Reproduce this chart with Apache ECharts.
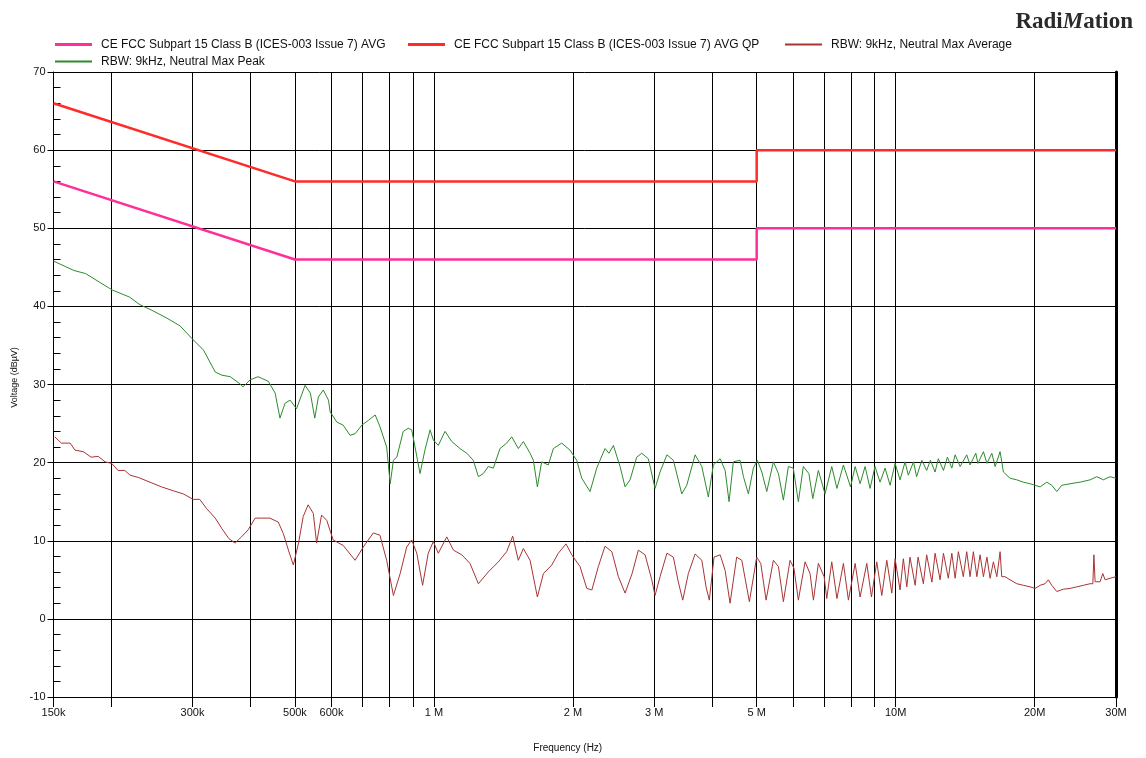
<!DOCTYPE html>
<html><head><meta charset="utf-8">
<script src="https://cdn.jsdelivr.net/npm/echarts@6/dist/echarts.min.js"></script>
<style>html,body{margin:0;padding:0;background:#fff}#c{width:1146px;height:758px}</style>
</head><body><div id="c"></div>
<script>
// ---- axis ticks ----
const gridFreqsHz = [150e3,200e3,300e3,400e3,500e3,600e3,700e3,800e3,900e3,1e6,2e6,3e6,4e6,5e6,6e6,7e6,8e6,9e6,10e6,20e6,30e6];
const labelFreqsHz = [150e3,300e3,500e3,600e3,1e6,2e6,3e6,5e6,10e6,20e6,30e6];
const labelTexts = ['150k','300k','500k','600k','1 M','2 M','3 M','5 M','10M','20M','30M'];

// ---- limit lines (frequency MHz, dBuV) ----
const qpFreqMHz  = [0.15, 0.5, 5, 5, 30];
const qpValues   = [66, 56, 56, 60, 60];
const avgFreqMHz = [0.15, 0.5, 5, 5, 30];
const avgValues  = [56, 46, 46, 50, 50];

// ---- RBW 9kHz Neutral Max Peak (green) ----
const peakFreqMHz = [0.15,0.166,0.176,0.196,0.201,0.219,0.231,0.245,0.264,0.282,0.299,0.317,0.336,0.347,0.362,0.38,0.386,0.4,0.416,0.438,0.453,0.464,0.476,0.488,0.504,0.526,0.54,0.552,0.562,0.576,0.591,0.596,0.616,0.636,0.658,0.675,0.698,0.721,0.746,0.764,0.79,0.804,0.817,0.831,0.858,0.88,0.895,0.91,0.933,0.956,0.981,0.997,1.022,1.057,1.093,1.139,1.178,1.217,1.248,1.279,1.311,1.345,1.39,1.437,1.474,1.523,1.562,1.615,1.642,1.675,1.711,1.769,1.814,1.891,1.971,2.038,2.09,2.178,2.252,2.347,2.394,2.447,2.53,2.594,2.659,2.749,2.818,2.913,3.012,3.088,3.196,3.3,3.441,3.528,3.678,3.803,3.929,4.028,4.167,4.272,4.356,4.451,4.602,4.681,4.797,4.918,5.017,5.129,5.258,5.434,5.572,5.712,5.855,6.0,6.155,6.31,6.487,6.614,6.8,7.03,7.27,7.46,7.705,7.984,8.17,8.373,8.585,8.8,9.02,9.25,9.485,9.725,9.97,10.22,10.48,10.65,10.93,11.1,11.39,11.67,11.89,12.17,12.37,12.69,12.94,13.23,13.45,13.79,14.25,14.49,14.91,15.07,15.49,15.76,16.15,16.42,16.83,17.11,17.69,18.29,18.9,19.55,20.04,20.55,21.24,21.78,22.33,22.89,23.87,25.09,26.37,27.26,28.17,29.13,30];
const peakValues = [45.8,44.6,44.2,42.5,42.1,41.2,40.2,39.5,38.5,37.5,35.9,34.4,31.6,31.2,31.0,30.1,29.7,30.6,31.0,30.4,28.9,25.7,27.6,28.0,26.9,29.9,28.9,25.7,28.4,29.3,28.0,26.5,25.2,24.8,23.5,23.7,24.8,25.4,26.1,24.6,22.0,17.3,20.3,20.7,24.0,24.4,24.2,22.0,18.6,21.6,24.2,22.9,22.2,24.0,22.7,21.8,21.2,20.3,18.2,18.6,19.5,19.3,21.8,22.5,23.3,21.8,22.7,21.2,20.3,16.9,20.1,19.7,21.8,22.5,21.6,20.3,18.0,16.3,19.3,21.8,21.2,22.2,19.5,16.9,17.8,20.7,21.2,20.5,16.7,18.8,21.0,20.3,16.0,17.1,21.0,19.5,15.6,19.7,20.5,19.0,15.0,20.1,20.3,18.2,16.0,19.3,20.3,18.8,16.3,20.1,18.6,15.2,19.5,19.3,15.0,19.5,18.6,15.4,19.0,16.0,19.5,16.7,19.7,16.9,19.5,17.3,19.5,16.7,19.5,17.5,19.3,17.1,19.9,17.8,20.1,18.4,20.1,18.2,20.3,19.0,20.3,18.8,20.5,19.0,20.7,19.3,21.0,19.5,21.0,19.7,21.2,19.9,21.4,19.9,21.2,19.5,21.4,18.8,18.0,17.8,17.5,17.3,17.1,16.9,17.5,17.1,16.3,17.1,17.3,17.5,17.8,18.2,17.8,18.2,18.0];

// ---- RBW 9kHz Neutral Max Average (dark red) ----
const avgTraceFreqMHz = [0.151,0.156,0.163,0.167,0.174,0.181,0.1875,0.194,0.2005,0.207,0.214,0.2197,0.229,0.245,0.257,0.2725,0.2865,0.301,0.311,0.322,0.336,0.347,0.3594,0.371,0.383,0.396,0.41,0.423,0.441,0.46,0.472,0.484,0.496,0.509,0.521,0.534,0.548,0.557,0.571,0.586,0.605,0.636,0.675,0.703,0.739,0.764,0.79,0.817,0.845,0.873,0.895,0.918,0.945,0.972,0.997,1.022,1.066,1.102,1.149,1.197,1.248,1.311,1.379,1.437,1.481,1.523,1.562,1.615,1.675,1.726,1.8,1.859,1.932,1.988,2.072,2.143,2.198,2.27,2.347,2.428,2.509,2.594,2.686,2.771,2.866,2.963,3.012,3.088,3.196,3.3,3.383,3.458,3.556,3.678,3.803,3.884,3.948,4.042,4.167,4.272,4.378,4.525,4.642,4.821,5.0,5.103,5.24,5.434,5.572,5.712,5.905,6.02,6.155,6.365,6.524,6.635,6.8,7.0,7.091,7.27,7.46,7.705,7.9,8.17,8.373,8.658,8.862,9.099,9.33,9.566,9.808,9.97,10.22,10.39,10.57,10.74,11.02,11.18,11.48,11.67,11.98,12.17,12.48,12.69,13.0,13.23,13.45,13.67,14.01,14.25,14.49,14.73,14.99,15.23,15.49,15.76,16.01,16.28,16.56,16.83,16.97,17.26,17.69,18.29,18.9,19.55,20.04,20.55,21.06,21.41,21.78,22.33,23.08,23.87,24.68,25.5,26.37,26.73,26.87,27.03,27.71,28.09,28.41,29.13,30];
const avgTraceValues = [23.3,22.5,22.5,21.6,21.4,20.7,20.8,20.1,19.9,19.0,19.0,18.4,18.1,17.4,16.9,16.4,16.0,15.3,15.3,14.1,12.9,11.6,10.3,9.7,10.5,11.4,12.9,12.9,12.9,12.4,10.9,8.8,6.9,9.7,13.1,14.6,13.5,9.7,13.3,12.6,10.1,9.4,7.5,9.2,11.0,10.7,7.5,3.0,5.8,9.2,10.1,8.4,4.3,8.4,9.9,8.4,10.5,8.8,8.2,7.1,4.5,6.0,7.3,8.6,10.6,7.5,9.0,7.5,2.8,5.8,6.9,8.4,9.6,8.2,6.7,3.9,3.7,6.7,9.3,8.6,5.4,3.3,5.8,8.8,8.2,5.0,3.0,5.4,8.4,7.9,4.7,2.4,5.8,8.3,7.5,4.1,2.4,7.9,8.2,6.2,2.0,7.9,7.5,2.2,7.9,7.1,2.4,7.5,6.7,2.2,7.5,6.5,2.4,7.3,5.8,2.4,7.1,5.4,2.6,7.3,2.6,7.1,2.4,7.1,2.8,7.1,2.8,7.3,3.0,7.5,3.3,7.7,3.7,7.7,4.1,7.9,4.3,7.9,4.5,8.2,4.7,8.4,5.0,8.4,5.2,8.4,5.2,8.6,5.4,8.6,5.4,8.6,5.4,8.2,5.4,7.9,5.2,7.3,5.4,8.6,5.4,5.4,5.0,4.5,4.3,4.1,3.9,4.3,4.5,5.0,4.3,3.5,3.8,3.9,4.1,4.3,4.5,4.5,8.2,4.75,4.75,5.8,5.0,5.2,5.4];

const lg = Math.log10;
const pts = (fMHz, v) => fMHz.map((f, i) => [lg(f * 1e6), v[i]]);

const FONT = '"Liberation Sans", Arial, sans-serif';
const chart = echarts.init(document.getElementById('c'), null, {renderer: 'canvas'});

const names = [
  'CE FCC Subpart 15 Class B (ICES-003 Issue 7) AVG',
  'CE FCC Subpart 15 Class B (ICES-003 Issue 7) AVG QP',
  'RBW: 9kHz, Neutral Max Average',
  'RBW: 9kHz, Neutral Max Peak'
];
const colors = ['#ff2f9a', '#ff2b2b', '#a93434', '#2e8a2e'];
const legendPos = [[55, 38.5, 3], [408, 38.5, 3], [785, 38.5, 2], [55, 55.5, 2]];

const yBase = {type: 'value', min: -10, max: 70, interval: 10, gridIndex: 0};

chart.setOption({
  animation: false,
  backgroundColor: '#fff',
  title: {
    text: '{a|Radi}{b|M}{a|ation}',
    right: 8, top: 6,
    textStyle: {
      rich: {
        a: {fontFamily: '"Liberation Serif", "Times New Roman", serif', fontSize: 23, color: '#2a2a2a'},
        b: {fontFamily: '"Liberation Serif", "Times New Roman", serif', fontSize: 23, fontStyle: 'italic', color: '#2a2a2a'}
      }
    }
  },
  legend: legendPos.map((p, i) => ({
    data: [names[i]], left: p[0], top: p[1], orient: 'horizontal', padding: 0,
    icon: 'rect', itemWidth: 37, itemHeight: p[2], selectedMode: false,
    textStyle: {fontFamily: FONT, fontSize: 12, color: '#111', padding: [0, 0, 0, 4]}
  })),
  grid: {left: 53.5, right: 30, top: 72, bottom: 61, containLabel: false},
  xAxis: {
    type: 'value', min: lg(150e3), max: lg(30e6),
    axisLine: {show: true, onZero: false, lineStyle: {color: '#000', width: 1}},
    axisTick: {show: true, customValues: gridFreqsHz.map(lg), length: 10, lineStyle: {color: '#000', width: 1}},
    axisLabel: {
      customValues: labelFreqsHz.map(lg), margin: 10,
      fontFamily: FONT, fontSize: 11, color: '#111',
      formatter: v => {
        const f = Math.pow(10, v);
        for (let i = 0; i < labelFreqsHz.length; i++) {
          if (Math.abs(labelFreqsHz[i] - f) / labelFreqsHz[i] < 0.01) return labelTexts[i];
        }
        return '';
      }
    },
    splitLine: {show: true, lineStyle: {color: '#000', width: 1}},
    name: 'Frequency (Hz)', nameLocation: 'middle', nameGap: 46,
    nameTextStyle: {fontFamily: FONT, fontSize: 10, color: '#111', padding: [0, 34, 0, 0]}
  },
  yAxis: [
    Object.assign({}, yBase, {
      position: 'left',
      axisLine: {show: true, lineStyle: {color: '#000', width: 1}},
      axisTick: {show: true, length: 6, lineStyle: {color: '#000'}},
      axisLabel: {fontFamily: FONT, fontSize: 11, color: '#111', margin: 8},
      splitLine: {show: true, lineStyle: {color: '#000', width: 1}},
      name: 'Voltage (dBµV)', nameLocation: 'middle', nameGap: 33, nameRotate: 90,
      nameTextStyle: {fontFamily: FONT, fontSize: 9, color: '#111', padding: [0, 0, 0, 14]}
    }),
    Object.assign({}, yBase, {
      position: 'left',
      axisLine: {show: false},
      axisTick: {show: true, inside: true, length: 7, lineStyle: {color: '#000'}},
      minorTick: {show: true, splitNumber: 5, length: 7, lineStyle: {color: '#000', width: 1}},
      axisLabel: {show: false},
      splitLine: {show: false}
    }),
    Object.assign({}, yBase, {
      position: 'right',
      axisLine: {show: true, lineStyle: {color: '#000', width: 3}},
      axisTick: {show: false}, axisLabel: {show: false}, splitLine: {show: false}
    })
  ],
  series: [
    {name: names[3], type: 'line', data: pts(peakFreqMHz, peakValues), showSymbol: false, symbol: 'none',
     color: colors[3], lineStyle: {color: colors[3], width: 1}, z: 3},
    {name: names[2], type: 'line', data: pts(avgTraceFreqMHz, avgTraceValues), showSymbol: false, symbol: 'none',
     color: colors[2], lineStyle: {color: colors[2], width: 1}, z: 3},
    {name: names[0], type: 'line', data: pts(avgFreqMHz, avgValues), showSymbol: false, symbol: 'none',
     color: colors[0], lineStyle: {color: colors[0], width: 2.5}, z: 4},
    {name: names[1], type: 'line', data: pts(qpFreqMHz, qpValues), showSymbol: false, symbol: 'none',
     color: colors[1], lineStyle: {color: colors[1], width: 2.5}, z: 4}
  ]
});
</script>
</body></html>
